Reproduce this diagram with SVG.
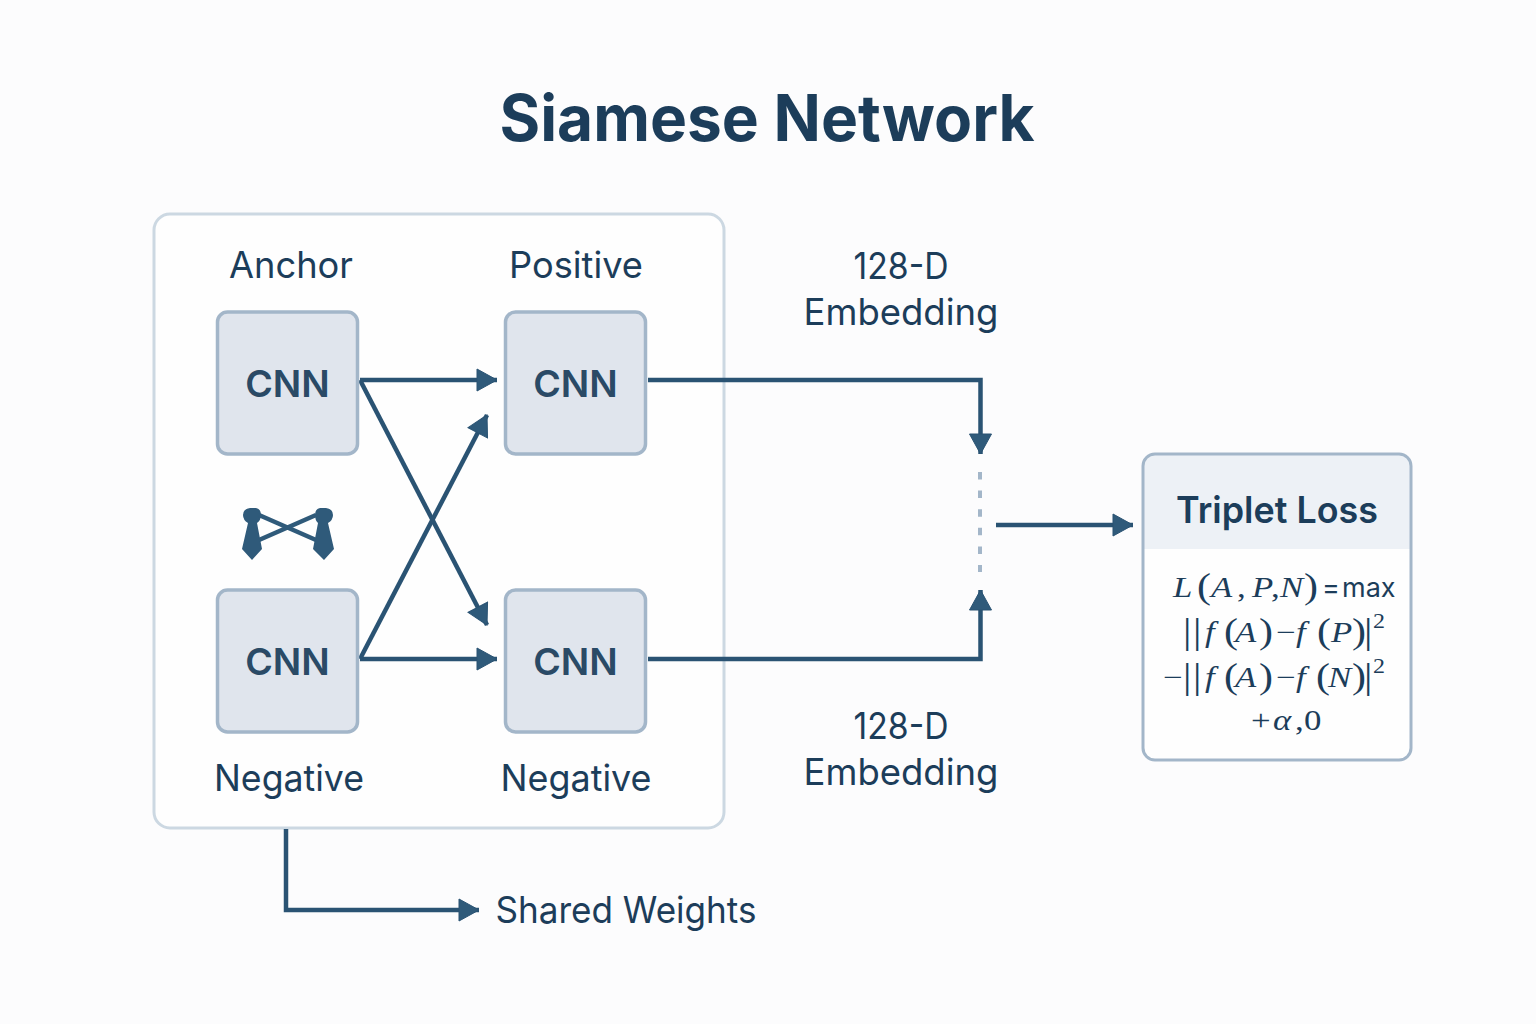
<svg xmlns="http://www.w3.org/2000/svg" width="1536" height="1024" viewBox="0 0 1536 1024">
<style>
.s{font-family:"Inter","Liberation Sans",sans-serif;fill:#1c3d5a}
.lab{font-size:37px;text-anchor:middle}
.cnnb{fill:#e0e5ed;stroke:#a3b6c9;stroke-width:3.5}
.cnnt{font-size:37.500px;font-weight:600;text-anchor:middle;fill:#2a4a66;font-family:"Inter","Liberation Sans",sans-serif}
.c{fill:none;stroke:#2a5373;stroke-width:4.500}
.m{font-family:"Liberation Serif",serif;font-size:29px;fill:#1c3d5a}
.mi{font-style:italic}
.b{font-size:35px}
.mx{font-family:"Inter","Liberation Sans",sans-serif;font-size:27px;fill:#1c3d5a}
</style>
<defs>
<marker id="a" markerUnits="userSpaceOnUse" markerWidth="22" markerHeight="24" refX="21" refY="12" orient="auto"><path d="M1 1L21 12L1 23Z" fill="#2f5a7a" stroke="#2a5373" stroke-width="1"/></marker>
</defs>
<rect width="1536" height="1024" fill="#fcfcfd"/>
<text id="title" class="s" x="767" y="141" font-size="64" font-weight="700" text-anchor="middle" textLength="535" lengthAdjust="spacingAndGlyphs">Siamese Network</text>
<g id="group"><rect x="154" y="214" width="570" height="614" rx="16" fill="#fefefe" stroke="#ccd8e2" stroke-width="3"/></g>
<g id="connectors">
<path class="c" d="M360 380H497" marker-end="url(#a)"/>
<path class="c" d="M360 380L487 625" marker-end="url(#a)"/>
<path class="c" d="M360 659H497" marker-end="url(#a)"/>
<path class="c" d="M360 659L487 415" marker-end="url(#a)"/>
<path class="c" d="M648 380H980.500V454" marker-end="url(#a)"/>
<path class="c" d="M648 659H980.500V590" marker-end="url(#a)"/>
<path class="c" d="M996 525H1133" marker-end="url(#a)"/>
<path class="c" d="M286 829V910H479" marker-end="url(#a)"/>
<path d="M980 472V572" fill="none" stroke="#a3b6c9" stroke-width="4" stroke-dasharray="7.500 11.100"/>
</g>
<g id="cnn-anchor"><rect class="cnnb" x="217.500" y="312" width="140" height="142" rx="10"/><text class="cnnt" x="287.500" y="397">CNN</text><text class="s lab" x="291" y="278" textLength="124" lengthAdjust="spacingAndGlyphs">Anchor</text></g>
<g id="cnn-positive"><rect class="cnnb" x="505.500" y="312" width="140" height="142" rx="10"/><text class="cnnt" x="575.500" y="397">CNN</text><text class="s lab" x="576" y="278" textLength="134" lengthAdjust="spacingAndGlyphs">Positive</text></g>
<g id="cnn-negative-1"><rect class="cnnb" x="217.500" y="590" width="140" height="142" rx="10"/><text class="cnnt" x="287.500" y="675">CNN</text><text class="s lab" x="289" y="791" textLength="150" lengthAdjust="spacingAndGlyphs">Negative</text></g>
<g id="cnn-negative-2"><rect class="cnnb" x="505.500" y="590" width="140" height="142" rx="10"/><text class="cnnt" x="575.500" y="675">CNN</text><text class="s lab" x="576" y="791" textLength="151" lengthAdjust="spacingAndGlyphs">Negative</text></g>
<g id="tie-icon" fill="#2f5a7a">
<path d="M250 508H256Q261 509 261 515Q261 520 257 523L262 549L252 560L242 549L248 523Q243 520 243 515Q243 509 250 508Z"/>
<path d="M320 508H326Q333 509 333 515Q333 520 328 523L334 549L324 560L313 549L318 523Q315 520 315 515Q315 509 320 508Z"/>
<path d="M259 515L316 540M259 540L316 515" stroke="#2f5a7a" stroke-width="4.500" fill="none"/>
</g>
<g id="embed-top"><text class="s lab" x="901" y="279" textLength="95" lengthAdjust="spacingAndGlyphs">128-D</text><text class="s lab" x="901" y="325" textLength="195" lengthAdjust="spacingAndGlyphs">Embedding</text></g>
<g id="embed-bottom"><text class="s lab" x="901" y="739" textLength="95" lengthAdjust="spacingAndGlyphs">128-D</text><text class="s lab" x="901" y="785" textLength="195" lengthAdjust="spacingAndGlyphs">Embedding</text></g>
<g id="shared"><text class="s lab" x="626" y="923" textLength="261" lengthAdjust="spacingAndGlyphs">Shared Weights</text></g>
<g id="triplet-loss">
<rect x="1143" y="454" width="268" height="306" rx="12" fill="#fefefe"/>
<path d="M1144 549V466Q1144 455 1155 455H1399Q1410 455 1410 466V549Z" fill="#edf1f6"/>
<rect x="1143" y="454" width="268" height="306" rx="12" fill="none" stroke="#a3b6c9" stroke-width="3"/>
<text class="s" x="1277" y="523" font-size="37" font-weight="600" text-anchor="middle" textLength="202" lengthAdjust="spacingAndGlyphs">Triplet Loss</text>
<g transform="scale(1.2 1)">
<text class="m" y="597"><tspan class="mi" x="977.500">L</tspan><tspan class="b" x="997.500" dy="1">(</tspan><tspan class="mi" x="1009.200" dy="-1">A</tspan><tspan x="1030.800">,</tspan><tspan class="mi" x="1043.300">P</tspan><tspan x="1059.200">,</tspan><tspan class="mi" x="1066.700">N</tspan><tspan class="b" x="1086.700" dy="1">)</tspan></text>
<text class="m" y="642"><tspan x="985.800" class="b" dy="1">|</tspan><tspan x="994.200" class="b">|</tspan><tspan class="mi" x="1004.200" dy="-1">f</tspan><tspan class="b" x="1020" dy="1">(</tspan><tspan class="mi" x="1029.200" dy="-1">A</tspan><tspan class="b" x="1049.200" dy="1">)</tspan><tspan x="1063.300" dy="-1">−</tspan><tspan class="mi" x="1080">f</tspan><tspan class="b" x="1097.500" dy="1">(</tspan><tspan class="mi" x="1109.200" dy="-1">P</tspan><tspan class="b" x="1126.700" dy="1">)</tspan><tspan class="b" x="1136.700">|</tspan><tspan font-size="20" x="1144.200" dy="-15">2</tspan></text>
<text class="m" y="687"><tspan x="969.200">−</tspan><tspan x="985.800" class="b" dy="1">|</tspan><tspan x="994.200" class="b">|</tspan><tspan class="mi" x="1004.200" dy="-1">f</tspan><tspan class="b" x="1020" dy="1">(</tspan><tspan class="mi" x="1029.200" dy="-1">A</tspan><tspan class="b" x="1049.200" dy="1">)</tspan><tspan x="1063.300" dy="-1">−</tspan><tspan class="mi" x="1080">f</tspan><tspan class="b" x="1096.700" dy="1">(</tspan><tspan class="mi" x="1106.700" dy="-1">N</tspan><tspan class="b" x="1126.700" dy="1">)</tspan><tspan class="b" x="1136.700">|</tspan><tspan font-size="20" x="1144.200" dy="-15">2</tspan></text>
<text class="m" y="730"><tspan x="1042.500">+</tspan><tspan class="mi" x="1060.800">α</tspan><tspan x="1079.200">,</tspan><tspan x="1086.700">0</tspan></text>
</g>
<text class="mx" x="1322" y="597">=</text><text class="mx" x="1342" y="597">max</text>
</g>
</svg>
